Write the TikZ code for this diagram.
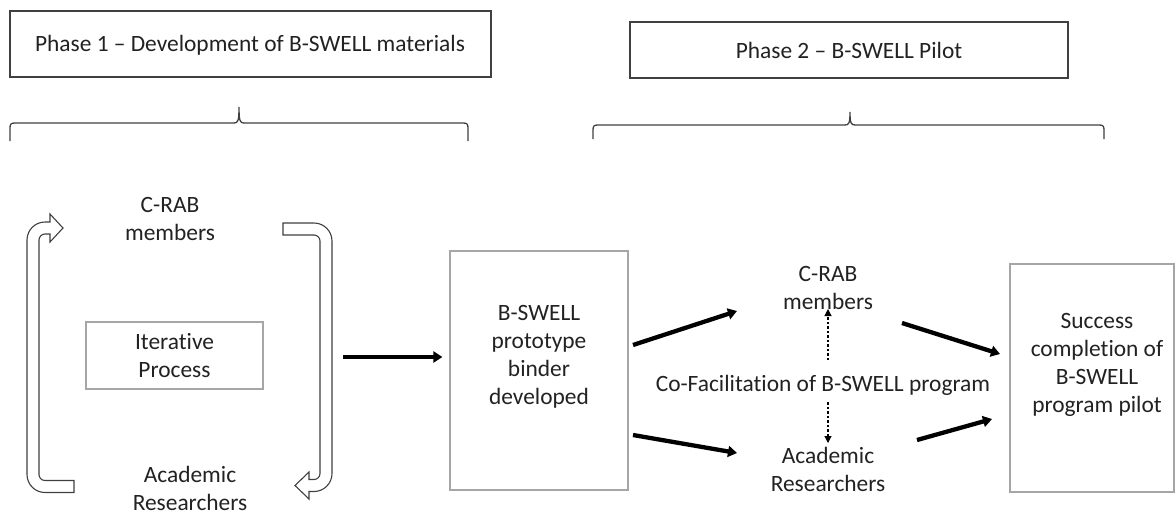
\documentclass[tikz,border=0pt]{standalone}
\usepackage{fontspec}
\setmainfont{Carlito}[Ligatures={NoCommon}]
\usetikzlibrary{arrows.meta}
\newcommand\mysz{\fontsize{23.4pt}{28pt}\selectfont}
\definecolor{ink}{HTML}{222222}
\definecolor{boxgray}{HTML}{A6A6A6}
\definecolor{dark}{HTML}{404040}
\begin{document}
\begin{tikzpicture}[x=1pt,y=-1pt,
  lbl/.style={font=\mysz, text=ink, align=center, inner sep=0pt},
  phasebox/.style={draw=dark, line width=1.3pt, inner sep=0pt},
  graybox/.style={draw=boxgray, line width=1.2pt, inner sep=0pt},
  bracepath/.style={draw=dark, line width=1.3pt},
  loopshape/.style={draw=dark, line width=1.1pt, fill=white, line join=miter},
  fatarrow/.style={line width=4.3pt, -{Triangle[length=9pt,width=11pt]}},
  dasharrow/.style={line width=1.1pt, dash pattern=on 2.5pt off 2pt, -{Triangle[length=7pt,width=7pt]}}]
\useasboundingbox (0,0) rectangle (1175,515);
\fill[white] (0,0) rectangle (1175,515);

% phase boxes
\node[phasebox, minimum width=481pt, minimum height=66pt] (p1box) at (250.5,44) {};
\node[lbl] (p1) at (250,45) {Phase 1 – Development of B-SWELL materials};
\node[phasebox, minimum width=438pt, minimum height=56pt] (p2box) at (849,50) {};
\node[lbl] (p2) at (849,50) {Phase 2 – B-SWELL Pilot};

% braces
\draw[bracepath] (10,141) -- (10,128) .. controls (10,124) and (11,123) .. (15,123)
  -- (234,123) .. controls (238,123) and (239,121) .. (239,107)
  .. controls (239,121) and (240,123) .. (244,123) -- (463,123)
  .. controls (467,123) and (468,124) .. (468,128) -- (468,141);
\draw[bracepath] (593,139) -- (593,130) .. controls (593,126) and (594,125) .. (598,125)
  -- (845,125) .. controls (849,125) and (850,123) .. (850,112)
  .. controls (850,123) and (851,125) .. (855,125) -- (1099,125)
  .. controls (1103,125) and (1104,126) .. (1104,130) -- (1104,139);

% phase 1 content
\node[lbl] (crab1) at (170,219) {C-RAB\\members};
\node[graybox, lbl, minimum width=177pt, minimum height=67pt] (iter) at (174.5,355.5) {Iterative\\Process};
\node[lbl] (acad1) at (190,488) {Academic\\Researchers};

% loop arrows
\path[loopshape] (74,492.5) -- (45,492.5) .. controls (35.06,492.5) and (27,484.44) .. (27,474.5)
  -- (27,240) .. controls (27,230.06) and (35.06,222) .. (45,222) -- (50,222) -- (50,214)
  -- (63,228) -- (50,242) -- (50,234) -- (45,234) .. controls (41.69,234) and (39,236.69) .. (39,240)
  -- (39,474.5) .. controls (39,477.81) and (41.69,480.5) .. (45,480.5) -- (74,480.5) -- cycle;
\path[loopshape] (283,223) -- (314,223) .. controls (323.94,223) and (332,231.06) .. (332,241)
  -- (332,473.5) .. controls (332,483.44) and (323.94,491.5) .. (314,491.5) -- (309,491.5)
  -- (309,499) -- (295,485.5) -- (309,472) -- (309,479.5) -- (314,479.5)
  .. controls (317.31,479.5) and (320,476.81) .. (320,473.5) -- (320,241)
  .. controls (320,237.69) and (317.31,235) .. (314,235) -- (283,235) -- cycle;

% middle
\node[graybox, minimum width=178pt, minimum height=239pt] (bbox) at (539,370.5) {};
\node[lbl] (btext) at (539,357) {B-SWELL\\prototype\\binder\\developed};
\coordinate (lp) at (343,357);
\draw[fatarrow, shorten >=7pt] (lp) -- (lp -| bbox.west);

\node[lbl] (crab2) at (828,287.5) {C-RAB\\members};
\node[lbl] (acad2) at (828,469) {Academic\\Researchers};
\node[lbl] (cofac) at (823,385) {Co-Facilitation of B-SWELL program};

\node[graybox, minimum width=164pt, minimum height=228pt] (sbox) at (1092,378) {};
\node[lbl] (stext) at (1097,365) {Success\\completion of\\B-SWELL\\program pilot};

% thick arrows
\coordinate (a1s) at (633,345); \coordinate (a1e) at (737,311);
\coordinate (a2s) at (633,435); \coordinate (a2e) at (737,453);
\coordinate (a3s) at (902,323); \coordinate (a3e) at (1000,354);
\coordinate (a4s) at (917,440); \coordinate (a4e) at (992,419);
\draw[fatarrow] (a1s) -- (a1e);
\draw[fatarrow] (a2s) -- (a2e);
\draw[fatarrow] (a3s) -- (a3e);
\draw[fatarrow] (a4s) -- (a4e);

% dashed arrows
\coordinate (d1s) at (828,360); \coordinate (d1e) at (828,309);
\coordinate (d2s) at (828,402); \coordinate (d2e) at (828,443);
\draw[dasharrow] (d1s) -- (d1e);
\draw[dasharrow] (d2s) -- (d2e);
\end{tikzpicture}
\end{document}
